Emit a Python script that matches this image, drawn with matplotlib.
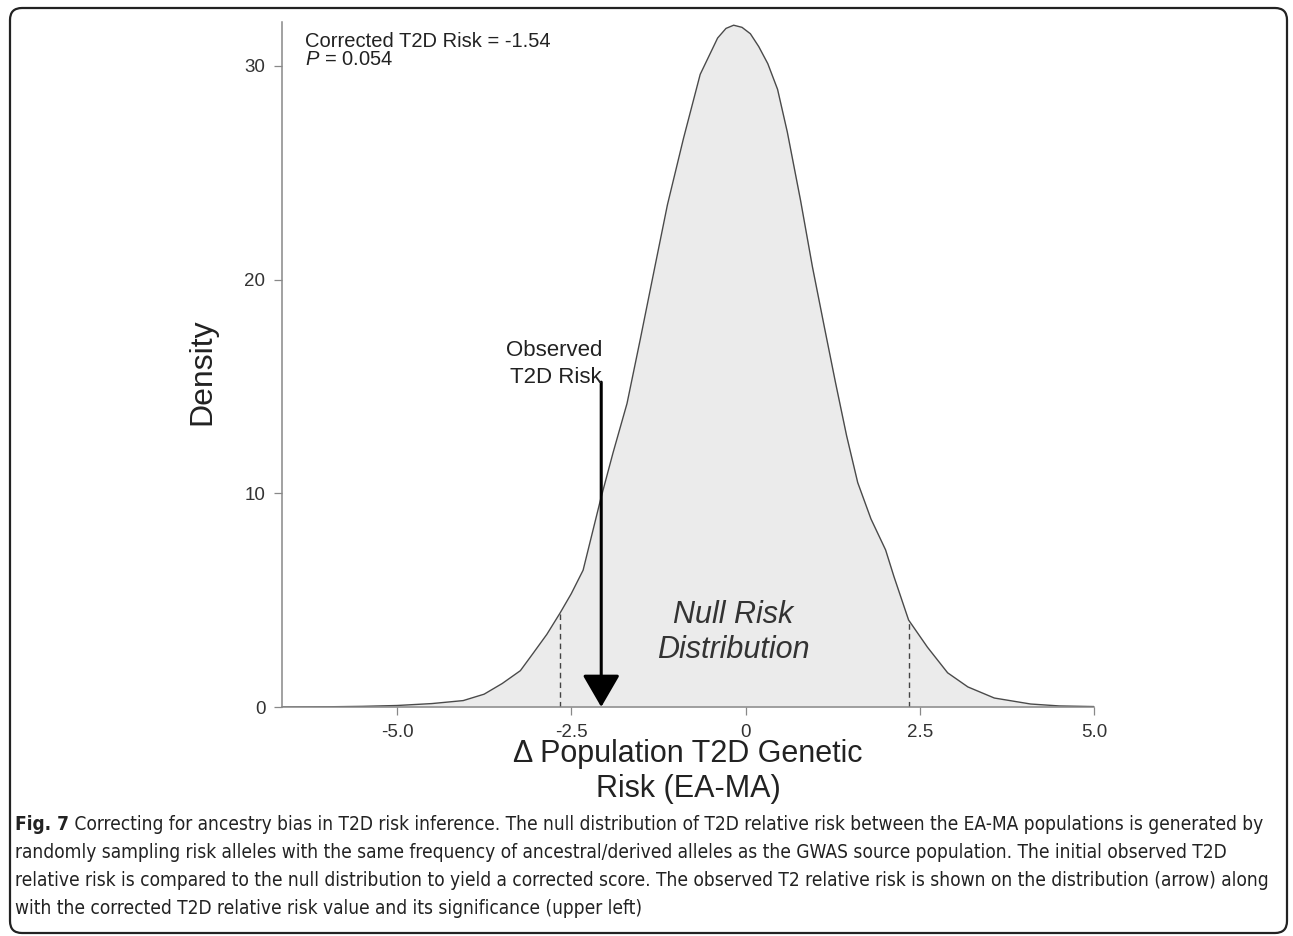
import matplotlib
matplotlib.use('Agg')
import matplotlib.pyplot as plt
from matplotlib.patches import FancyBboxPatch

plt.rcParams['font.family'] = ['Liberation Sans', 'DejaVu Sans']
plt.rcParams['mathtext.fontset'] = 'custom'
plt.rcParams['mathtext.it'] = 'Liberation Sans:italic'
plt.rcParams['mathtext.rm'] = 'Liberation Sans'

# density curve
risk = [-6.65, -6.0, -5.5, -5.0, -4.5, -4.05, -3.75, -3.49, -3.23, -3.05, -2.85, -2.66,
        -2.5, -2.33, -2.08, -1.9, -1.70, -1.51, -1.30, -1.12, -0.89, -0.65, -0.40, -0.28,
        -0.17, -0.05, 0.07, 0.19, 0.32, 0.46, 0.60, 0.79, 0.96, 1.13, 1.29, 1.45, 1.61,
        1.80, 2.01, 2.13, 2.34, 2.61, 2.90, 3.19, 3.57, 4.09, 4.5, 5.0]
density = [0, 0.01, 0.03, 0.07, 0.16, 0.3, 0.6, 1.1, 1.7, 2.5, 3.4, 4.4,
           5.3, 6.4, 9.7, 11.9, 14.2, 17.2, 20.6, 23.5, 26.6, 29.6, 31.3, 31.75,
           31.9, 31.8, 31.5, 30.9, 30.1, 28.9, 26.9, 23.7, 20.6, 17.8, 15.2, 12.7, 10.5,
           8.8, 7.35, 6.1, 4.07, 2.8, 1.6, 0.94, 0.42, 0.14, 0.05, 0.02]

# 95% cut-offs (dashed) and their curve heights
cut_x = [-2.66, 2.35]
cut_y = [4.4, 3.95]

observed = -2.07
corrected = -1.54
pval = 0.054

xticks = [-5.0, -2.5, 0, 2.5, 5.0]
xticklabels = ['-5.0', '-2.5', '0', '2.5', '5.0']
yticks = [0, 10, 20, 30]

caption_bold = 'Fig. 7'
caption_lines = [
    ' Correcting for ancestry bias in T2D risk inference. The null distribution of T2D relative risk between the EA-MA populations is generated by',
    'randomly sampling risk alleles with the same frequency of ancestral/derived alleles as the GWAS source population. The initial observed T2D',
    'relative risk is compared to the null distribution to yield a corrected score. The observed T2 relative risk is shown on the distribution (arrow) along',
    'with the corrected T2D relative risk value and its significance (upper left)',
]

fig = plt.figure(figsize=(12.93, 9.36), dpi=100)
ax = fig.add_axes([282/1293, 1 - 707/936, 812/1293, 685/936])

ax.fill_between(risk, density, color='#ebebeb', lw=0)
ax.plot(risk, density, color='#4a4a4a', lw=1.0)
for cx, cy in zip(cut_x, cut_y):
    ax.plot([cx, cx], [0, cy], color='#444444', lw=1.0, ls=(0, (4, 3)))

ax.annotate('', xy=(observed, 0), xytext=(observed, 15.2),
            arrowprops=dict(arrowstyle='-|>,head_length=1.0,head_width=0.58',
                            mutation_scale=20, lw=2.2, color='black',
                            shrinkA=0, shrinkB=0))
ax.text(observed + 0.01, 15.16, 'Observed\nT2D Risk', ha='right', va='baseline',
        fontsize=16, color='#222222', linespacing=1.4)

ax.text(-0.18, 2.29, 'Null Risk\nDistribution', ha='center', va='baseline',
        fontsize=22, style='italic', color='#333333', linespacing=1.2)

ax.text(-6.32, 30.9, 'Corrected T2D Risk = %.2f' % corrected, ha='left',
        va='baseline', fontsize=14.5, color='#222222')
ax.text(-6.32, 30.04, r'$P$ = %.3f' % pval, ha='left', va='baseline',
        fontsize=14.5, color='#222222')

ax.set_xlim(-6.65, 5.0)
ax.set_ylim(0, 32.05)
ax.set_xticks(xticks)
ax.set_xticklabels(xticklabels)
ax.set_yticks(yticks)
for s in ['top', 'right']:
    ax.spines[s].set_visible(False)
for s in ['left', 'bottom']:
    ax.spines[s].set_color('#888888')
    ax.spines[s].set_linewidth(1.1)
ax.tick_params(length=6, width=0.9, color='#888888', labelsize=13.5,
               labelcolor='#333333', pad=6)

ax.set_ylabel('Density', fontsize=23, color='#222222')
ax.yaxis.set_label_coords(-0.079, 0.49)
ax.set_xlabel('Δ Population T2D Genetic\nRisk (EA-MA)', fontsize=22,
              color='#222222', linespacing=1.2, va='top')
ax.xaxis.set_label_coords(0.5, -0.047)

# caption
cap_font = dict(family=['Liberation Sans Narrow', 'DejaVu Sans'], stretch='condensed',
                fontsize=13.7, color='#222222')
y0 = 1 - 830/936
t = fig.text(15/1293, y0, caption_bold, weight='bold', va='baseline', **cap_font)
r = fig.canvas.get_renderer()
bb = t.get_window_extent(r)
fig.text(bb.x1/1293, y0, caption_lines[0], va='baseline', **cap_font)
for i, line in enumerate(caption_lines[1:]):
    fig.text(15/1293, y0 - (i + 1)*28/936, line, va='baseline', **cap_font)

# rounded frame around the figure
frame = FancyBboxPatch((0.10, 0.03), 12.77, 9.25,
                       boxstyle='round,pad=0,rounding_size=0.12',
                       transform=fig.dpi_scale_trans, fill=False,
                       ec='#222222', lw=1.6)
fig.patches.append(frame)

plt.savefig('out.png', dpi=100)
